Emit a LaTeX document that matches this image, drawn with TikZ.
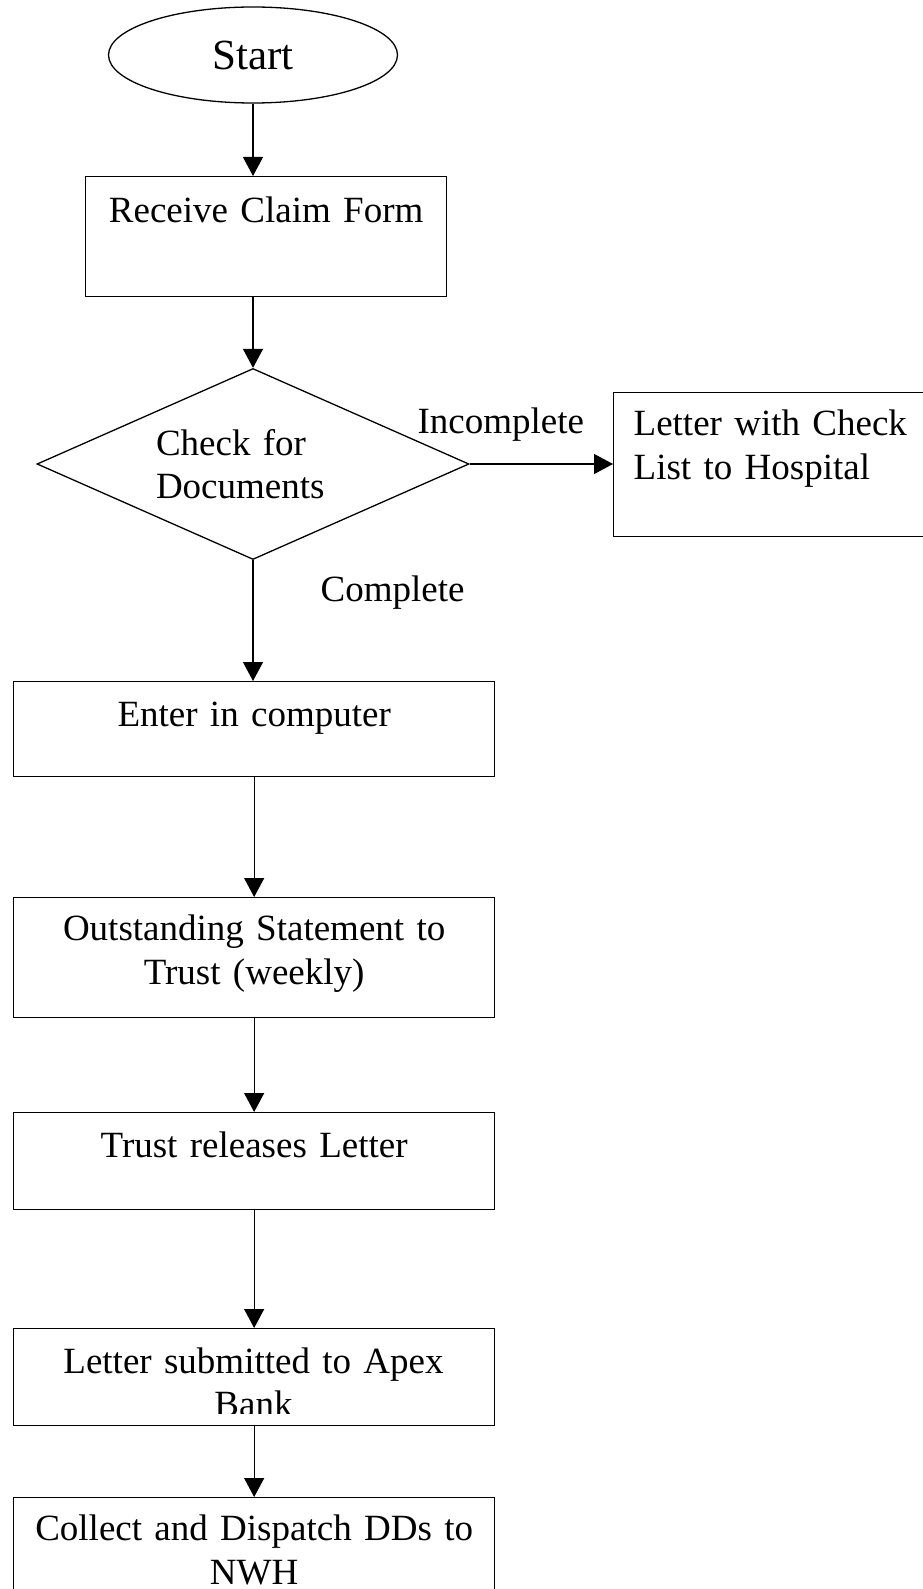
\documentclass[tikz,border=0pt]{standalone}
\usepackage{fontspec}
\setmainfont{Liberation Serif}
\usetikzlibrary{shapes.geometric,arrows.meta}

\begin{document}
\begin{tikzpicture}[x=1pt,y=-1pt,line width=1.3pt,
	every node/.style={font=\fontsize{37}{43.5}\selectfont},
	box/.style={draw,rectangle,anchor=north west,inner sep=0pt,align=center,text height=45pt},
	arr/.style={-{Triangle[length=19pt,width=20pt]}}]
					% Fix the page size
					\useasboundingbox (0,0) rectangle (922,1589);
					
					% Start and the check
					\node[draw,ellipse,minimum width=289pt,minimum height=96pt,inner sep=0pt,font=\fontsize{43}{50}\selectfont] (start) at (253,55) {Start};
					\node[box,text width=361pt,text height=46pt,text depth=74pt] (recv) at (85,176) {Receive Claim Form};
					\node[draw,diamond,aspect=2.26,minimum width=432pt,minimum height=191pt,inner sep=0pt,text width=194pt,align=left] (chk) at (253,464) {Check for\\Documents};
					\node[box,text width=277pt,inner xsep=20pt,align=left,text height=43pt,text depth=101pt] (hosp) at (613,392) {Letter with Check\\List to Hospital};
					
					% Boxes down the left
					\node[box,text width=481pt,text depth=50pt] (enter) at (13,681) {Enter in computer};
					\node[box,text width=481pt,text height=43pt,text depth=77pt] (outst) at (13,897) {Outstanding Statement to\\Trust (weekly)};
					\node[box,text width=481pt,text depth=52pt] (trust) at (13,1112) {Trust releases Letter};
					\node[box,text width=481pt,text depth=52pt] (apex) at (13,1328) {};
					\begin{scope}
						\clip (13,1328) rectangle (494,1413);
						\node[anchor=base,text width=481pt,align=center,inner sep=0pt] (apextxt) at (253.5,1373) {Letter submitted to Apex\\Bank};
					\end{scope}
					\node[box,text width=481pt,text height=43pt,text depth=77pt] (collect) at (13,1497) {Collect and Dispatch DDs to\\NWH};
					
					% Labels on the branches
					\node[anchor=base west,inner sep=0pt] (incl) at (417,433) {Incomplete};
					\node[anchor=base west,inner sep=0pt] (cmpl) at (320,601) {Complete};
					
					% Arrows
					\draw[arr] (start.south) -- (start.south |- recv.north);
					\draw[arr] (chk.north |- recv.south) -- (chk.north);
					\draw[arr] (chk.east) -- (chk.east -| hosp.west);
					\draw[arr] (chk.south) -- (chk.south |- enter.north);
					\draw[arr] (enter.south) -- (outst.north);
					\draw[arr] (outst.south) -- (trust.north);
					\draw[arr] (trust.south) -- (apex.north);
					\draw[arr] (apex.south) -- (collect.north);
				\end{tikzpicture}
\end{document}
